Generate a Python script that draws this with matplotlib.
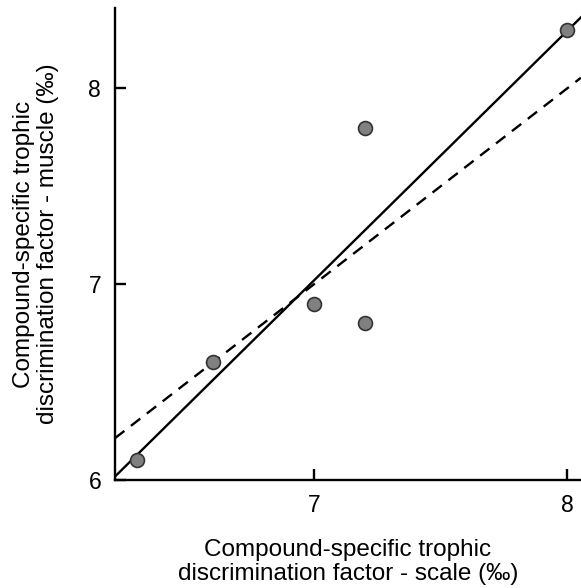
import numpy as np
import matplotlib.pyplot as plt

plt.rcParams['font.family'] = ['Liberation Sans', 'DejaVu Sans']

# data: TDF scale vs TDF muscle
scale = [6.3, 6.6, 7.0, 7.2, 7.2, 8.0]
muscle = [6.1, 6.6, 6.9, 6.8, 7.8, 8.3]
x_ticks = [7, 8]
y_ticks = [6, 7, 8]

fig = plt.figure(figsize=(5.81, 5.88), dpi=100)
ax = fig.add_axes([0.198, 0.184, 0.802, 0.802])

xlim = (6.213, 8.055)
ylim = (6.0, 8.41)

# 1:1 line
ax.plot(xlim, xlim, color='black', lw=1.7, ls=(0, (5, 3.5)), zorder=2)

# least squares fit
slope, icpt = np.polyfit(scale, muscle, 1)
xs = np.array(xlim)
ax.plot(xs, slope * xs + icpt, color='black', lw=1.7, zorder=2)

ax.plot(scale, muscle, 'o', ms=10, mfc='#808080', mec='#333333', mew=1.2, zorder=3)

ax.set_xlim(xlim)
ax.set_ylim(ylim)
ax.set_xticks(x_ticks)
ax.set_yticks(y_ticks)

for s in ['top', 'right']:
    ax.spines[s].set_visible(False)
for s in ['left', 'bottom']:
    ax.spines[s].set_linewidth(1.7)

ax.tick_params(direction='in', length=8, width=1.7, labelsize=16.5, pad=10)

ax.set_xlabel('Compound-specific trophic\ndiscrimination factor - scale (‰)', fontsize=17.5, linespacing=1.12)
ax.set_ylabel('Compound-specific trophic\ndiscrimination factor - muscle (‰)', fontsize=17.5, linespacing=1.12)
ax.xaxis.set_label_coords(0.5, -0.125)
ax.yaxis.set_label_coords(-0.12, 0.5)

plt.savefig('out.png', dpi=100)
